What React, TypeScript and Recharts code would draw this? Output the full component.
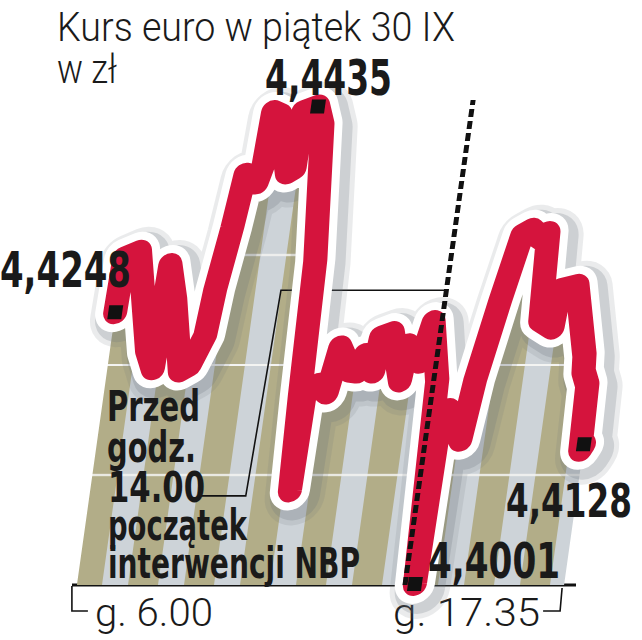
import React from 'react';
import { ComposedChart, LineChart, Line, Area, XAxis, YAxis } from 'recharts';

const W = 642;
const H = 640;

// czas: minuty od g. 6.00 (0) do g. 17.35 (695)
const minutes = [
  0, 2, 23, 53, 65, 69, 83, 104, 117, 133, 138, 150, 158, 176, 182, 185, 196, 217, 227, 228,
  248, 258, 275, 280, 285, 287, 304, 318, 328, 347, 358, 365, 380, 384, 400, 420, 424, 445, 456, 473,
  482, 485, 495, 518, 527, 547, 565, 578, 591, 602, 608, 627, 630, 654, 678, 680, 688, 691, 695,
];
// kurs EUR/PLN
const kurs = [
  4.4248, 4.4297, 4.4303, 4.4214, 4.4197, 4.4291, 4.4259, 4.4195, 4.42, 4.4227, 4.4268, 4.4325, 4.4373, 4.4366, 4.4382, 4.443, 4.4427, 4.4375, 4.4379, 4.443,
  4.4435, 4.4418, 4.4295, 4.4173, 4.4086, 4.4175, 4.4182, 4.4175, 4.4216, 4.4195, 4.4194, 4.4209, 4.4194, 4.4225, 4.4229, 4.4186, 4.4218, 4.4203, 4.4239, 4.4186,
  4.4001, 4.415, 4.4159, 4.4132, 4.4186, 4.4259, 4.4318, 4.4323, 4.4316, 4.432, 4.4241, 4.4234, 4.4268, 4.4272, 4.4209, 4.4194, 4.4182, 4.4123, 4.4128,
];
const yTicks = [4.4, 4.41, 4.42, 4.44];
const xTicks = [0, 695];
const xLabels: Record<number, string> = { 0: 'g. 6.00', 695: 'g. 17.35' };

// początek interwencji NBP (linia przerywana)
const interwencjaT = 468;
const interwencjaTop = 4.4441;
// linia odnośnika do opisu
const calloutT = [158, 223, 232, 468];
const calloutV = [4.4081, 4.4081, 4.4268, 4.4268];

// ta sama seria pod kilkoma kluczami: cień, biały obrys i czerwona linia
const data = minutes.map((t, i) => ({ t, kurs: kurs[i], obrys: kurs[i], cien1: kurs[i], cien2: kurs[i] }));
const dashData = [
  { t: interwencjaT, przerwa: 4.4 },
  { t: interwencjaT, przerwa: interwencjaTop },
];
const callout = calloutT.map((t, i) => ({ t, odnosnik: calloutV[i] }));

const maxIdx = kurs.indexOf(Math.max(...kurs));
const minIdx = kurs.indexOf(Math.min(...kurs));
const marked = [0, maxIdx, minIdx, kurs.length - 1];

const X_DOMAIN: [number, number] = [-7, 712];
const Y_DOMAIN: [number, number] = [4.4, 4.45];
const MARGIN = { top: 35, right: 66, bottom: 55, left: 72 };

const RED = '#d5143d';
const INK = '#1a1a1a';
const LIGHT = "Roboto, 'Open Sans', sans-serif";
const BOLD = "'Liberation Sans Narrow', 'DejaVu Sans Condensed', Roboto, sans-serif";

const Marker = (props: any) => {
  const { cx, cy, index } = props;
  if (!marked.includes(index)) return <g key={`m${index}`} />;
  return <rect key={`m${index}`} x={cx - 7} y={cy - 7} width={14} height={14} fill="#111" />;
};

const KursTick = (props: any) => {
  const { y, payload } = props;
  return (
    <text x={5} y={y + 11} fontFamily={LIGHT} fontWeight={300} fontSize={32} fill="#333"
      textLength={57} lengthAdjust="spacingAndGlyphs">
      {payload.value.toFixed(2).replace('.', ',')}
    </text>
  );
};

const TimeTick = (props: any) => {
  const { x, payload } = props;
  const label = xLabels[payload.value];
  if (payload.value === 0) {
    return (
      <g>
        <path d={`M${x - 5},586 V611 H${x + 11}`} stroke="#111" strokeWidth={1.6} fill="none" />
        <text x={x + 18} y={626} fontFamily={LIGHT} fontWeight={300} fontSize={38} fill={INK}
          textLength={118} lengthAdjust="spacingAndGlyphs">{label}</text>
      </g>
    );
  }
  return (
    <g>
      <path d={`M${x - 2},588 L${x - 4},611 H${x - 21}`} stroke="#111" strokeWidth={1.6} fill="none" />
      <text x={x - 171} y={626} fontFamily={LIGHT} fontWeight={300} fontSize={38} fill={INK}
        textLength={147} lengthAdjust="spacingAndGlyphs">{label}</text>
    </g>
  );
};

const Label = ({ x, y, w, size, children }: any) => (
  <text x={x} y={y} fontFamily={BOLD} fontWeight={700} fontSize={size} fill={INK}
    textLength={w} lengthAdjust="spacingAndGlyphs">{children}</text>
);

// warstwa pochylona jak w oryginalnej grafice; wszystkie warstwy mają te same osie
const Skewed = ({ children, shift = '' }: any) => (
  <div style={{
    position: 'absolute', left: 0, top: 0, width: W, height: H,
    transform: `${shift} skewX(-8deg)`, transformOrigin: '0 585px',
  }}>
    <ComposedChart width={W} height={H} data={data} margin={MARGIN}>
      {children}
      <XAxis type="number" dataKey="t" domain={X_DOMAIN} hide />
      <YAxis type="number" domain={Y_DOMAIN} hide />
    </ComposedChart>
  </div>
);

export default function App() {
  return (
    <div style={{ position: 'absolute', left: 0, top: 0, width: W, height: H, background: '#fff' }}>
      {/* osie */}
      <div style={{ position: 'absolute', left: 0, top: 0 }}>
        <LineChart width={W} height={H} data={data} margin={{ top: 35, right: 66, bottom: 0, left: 0 }}>
          <XAxis type="number" dataKey="t" domain={X_DOMAIN} ticks={xTicks} interval={0} height={55}
            axisLine={{ stroke: '#111', strokeWidth: 3 }} tickLine={false} tick={<TimeTick />} />
          <YAxis type="number" domain={Y_DOMAIN} ticks={yTicks} interval={0} width={72}
            axisLine={false} tickLine={false} tick={<KursTick />} />
        </LineChart>
      </div>

      {/* tło w paski pod wykresem + odnośnik */}
      <Skewed>
        <defs>
          <pattern id="pasy" patternUnits="userSpaceOnUse" x={72} y={0} width={56} height={H}>
            <rect x={0} y={0} width={30} height={H} fill="#b2ad88" />
            <rect x={30} y={0} width={26} height={H} fill="#cdd3d8" />
            <rect x={0} y={254} width={56} height={2} fill="#f4f4f2" />
            <rect x={0} y={364} width={56} height={2} fill="#f4f4f2" />
            <rect x={0} y={474} width={56} height={2} fill="#f4f4f2" />
          </pattern>
        </defs>
        <Area id="tlo" type="linear" dataKey="kurs" fill="url(#pasy)" fillOpacity={1} stroke="none" isAnimationActive={false} />
        <Line id="odnosnik" data={callout} type="linear" dataKey="odnosnik" stroke="#111" strokeWidth={1.6}
          dot={false} activeDot={false} isAnimationActive={false} />
      </Skewed>

      {/* miękki cień linii (dwie warstwy, przesunięte w prawo w dół) */}
      <Skewed shift="translate(5px, 5px)">
        <Line id="cien1" type="linear" dataKey="cien1" stroke="#6b737a" strokeOpacity={0.14} strokeWidth={60}
          strokeLinejoin="round" strokeLinecap="round" dot={false} activeDot={false} isAnimationActive={false} />
        <Line id="cien2" type="linear" dataKey="cien2" stroke="#6b737a" strokeOpacity={0.22} strokeWidth={50}
          strokeLinejoin="round" strokeLinecap="round" dot={false} activeDot={false} isAnimationActive={false} />
      </Skewed>

      {/* linia kursu z białym obrysem */}
      <Skewed>
        <Line id="obrys" type="linear" dataKey="obrys" stroke="#ffffff" strokeWidth={40} strokeLinejoin="round"
          strokeLinecap="round" dot={false} activeDot={false} isAnimationActive={false} />
        <Line id="kurs" type="linear" dataKey="kurs" stroke={RED} strokeWidth={24} strokeLinejoin="round"
          strokeLinecap="round" dot={Marker} activeDot={false} isAnimationActive={false} />
      </Skewed>

      {/* interwencja NBP */}
      <Skewed>
        <Line id="przerwa" data={dashData} type="linear" dataKey="przerwa" stroke="#111" strokeWidth={5}
          strokeDasharray="8 4" dot={false} activeDot={false} isAnimationActive={false} />
      </Skewed>

      {/* opisy */}
      <svg width={W} height={H} style={{ position: 'absolute', left: 0, top: 0 }}>
        <text x={57} y={41} fontFamily={LIGHT} fontWeight={300} fontSize={40} fill={INK}
          textLength={398} lengthAdjust="spacingAndGlyphs">Kurs euro w piątek 30 IX</text>
        <text x={57} y={83} fontFamily={LIGHT} fontWeight={300} fontSize={40} fill={INK}
          textLength={60} lengthAdjust="spacingAndGlyphs">w zł</text>
        <Label x={265} y={95} w={127} size={50}>4,4435</Label>
        <Label x={0} y={287} w={131} size={50}>4,4248</Label>
        <Label x={506} y={517} w={126} size={46}>4,4128</Label>
        <Label x={428} y={578} w={132} size={50}>4,4001</Label>
        <Label x={107} y={421} w={93} size={43}>Przed</Label>
        <Label x={107} y={462} w={89} size={43}>godz.</Label>
        <Label x={108} y={502} w={97} size={43}>14.00</Label>
        <Label x={108} y={540} w={139} size={43}>początek</Label>
        <Label x={108} y={578} w={252} size={43}>interwencji NBP</Label>
      </svg>
    </div>
  );
}
